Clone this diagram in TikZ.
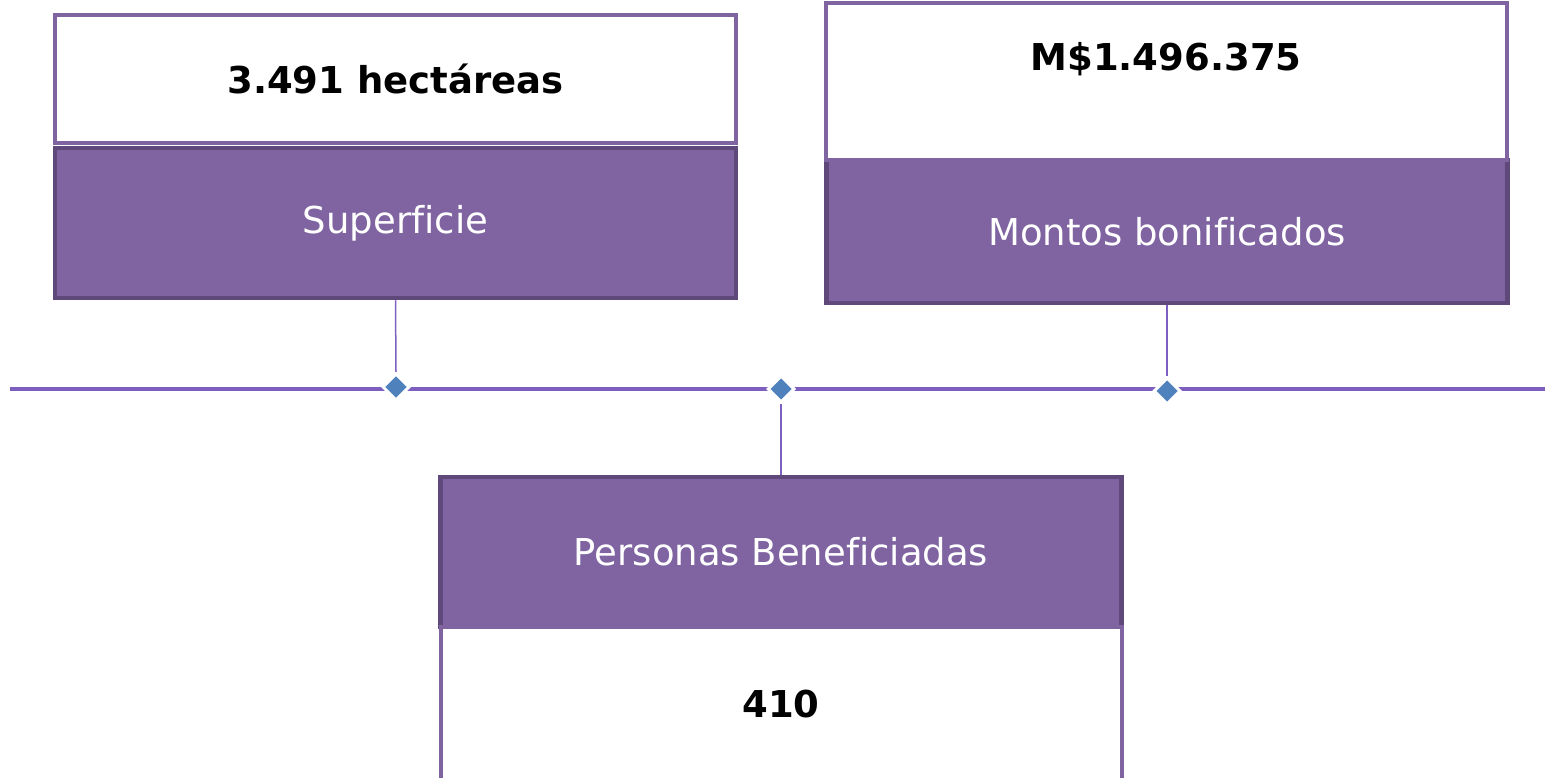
\documentclass[tikz,border=0pt]{standalone}
\usepackage{fontspec}
\setmainfont{DejaVu Sans}[Ligatures=NoCommon]
\usetikzlibrary{shapes.geometric}
\definecolor{boxpurple}{HTML}{8064A2}
\definecolor{boxedge}{HTML}{5F497A}
\definecolor{linepurple}{HTML}{7D5FBF}
\definecolor{markblue}{HTML}{4F81BD}
\newcommand{\bigtext}{\fontsize{37}{44}\selectfont}
\tikzset{
    headbox/.style={rectangle, draw=boxedge, fill=boxpurple, line width=4.5pt,
        minimum width=681pt, text=white, font=\bigtext, inner sep=0pt},
    valbox/.style={rectangle, draw=boxpurple, fill=white, line width=4pt,
        minimum width=681pt, font=\bigtext\bfseries, inner sep=0pt},
    tickmark/.style={diamond, draw=white, line width=3pt, fill=markblue,
        minimum size=27pt, inner sep=0pt},
    axisline/.style={draw=linepurple, line width=4pt},
    stem/.style={draw=linepurple, line width=1.5pt}
}

\begin{document}
\begin{tikzpicture}[x=1pt, y=-1pt]
        \useasboundingbox (0,0) rectangle (1545,778);
        \node (supval) [valbox, minimum height=128pt] at (395.5,79) {3.491 hectáreas};
        \node (sup) [headbox, minimum height=150pt] at (395.5,223) {Superficie};
        \node (montos) [headbox, minimum height=143pt] at (1167,231.5) {Montos bonificados};
        \node (montosval) [valbox, minimum height=157pt] at (1166,81.5)
            {\raisebox{50pt}{M\$1.496.375}};
        \node (pers) [headbox, minimum height=150pt] at (781,552) {Personas Beneficiadas};
        \node (persval) [valbox, minimum height=155pt] at (781,704.5) {410};
        \coordinate (axisstart) at (10,389);
        \coordinate (axisend) at (1545,389);
        \draw[axisline] (axisstart) -- (axisend);
        \node (d1) [tickmark] at (396,387) {};
        \node (d2) [tickmark] at (781,389) {};
        \node (d3) [tickmark] at (1167,391) {};
        \draw[stem] (sup.south) -- (d1.north);
        \draw[stem] (montos.south) -- (d3.north);
        \draw[stem] (d2.south) -- (pers.north);
    \end{tikzpicture}
\end{document}
